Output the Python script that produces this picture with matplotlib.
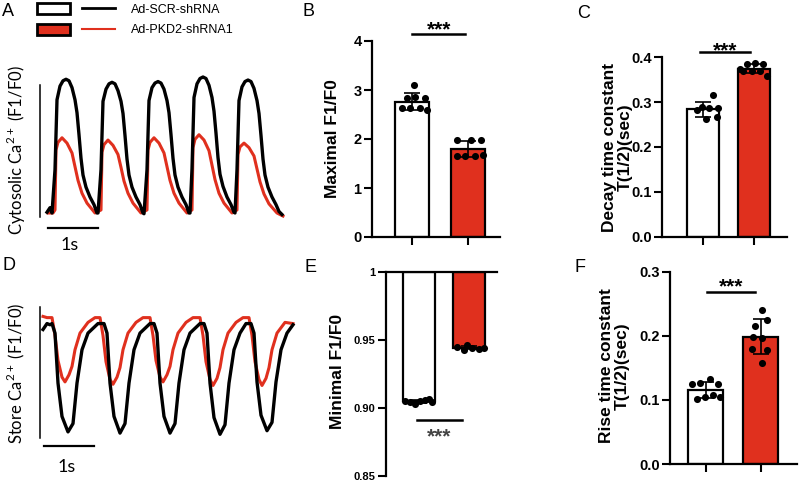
import numpy as np
import matplotlib
matplotlib.use("Agg")
import matplotlib.pyplot as plt
from matplotlib.patches import Patch
from matplotlib.lines import Line2D
from matplotlib.legend_handler import HandlerTuple

plt.rcParams['font.family'] = 'Liberation Sans'

RED = '#e0301e'
W, H = 800, 482

# ---------------- traces: time (s) and F1/F0 ----------------
cyto_t_scr = [0.00, 0.06,
              0.10, 0.16, 0.20, 0.26, 0.32, 0.38, 0.44, 0.50, 0.56, 0.60, 0.64, 0.68, 0.72, 0.78, 0.86, 0.94, 1.00,
              1.02, 1.08, 1.12, 1.18, 1.24, 1.30, 1.36, 1.42, 1.48, 1.52, 1.56, 1.60, 1.64, 1.70, 1.78, 1.86, 1.92,
              1.94, 2.00, 2.04, 2.10, 2.16, 2.22, 2.28, 2.34, 2.40, 2.44, 2.48, 2.52, 2.56, 2.62, 2.70, 2.78, 2.84,
              2.86, 2.90, 2.94, 3.00, 3.06, 3.12, 3.18, 3.24, 3.30, 3.34, 3.38, 3.42, 3.46, 3.52, 3.60, 3.68, 3.74,
              3.76, 3.80, 3.84, 3.90, 3.96, 4.02, 4.08, 4.14, 4.20, 4.24, 4.28, 4.32, 4.36, 4.42, 4.50, 4.58, 4.64, 4.70]
cyto_scr = [1.01, 1.07,
            1.00, 1.57, 2.49, 2.67, 2.74, 2.76, 2.74, 2.65, 2.49, 2.32, 2.03, 1.72, 1.50, 1.34, 1.21, 1.11, 1.00,
            1.00, 1.57, 2.47, 2.63, 2.70, 2.72, 2.70, 2.61, 2.47, 2.31, 2.02, 1.71, 1.50, 1.34, 1.21, 1.11, 1.00,
            0.99, 1.57, 2.48, 2.65, 2.71, 2.73, 2.71, 2.63, 2.48, 2.32, 2.03, 1.72, 1.50, 1.34, 1.21, 1.11, 1.00,
            1.00, 1.58, 2.52, 2.70, 2.77, 2.79, 2.77, 2.68, 2.52, 2.34, 2.05, 1.73, 1.51, 1.35, 1.21, 1.11, 1.01,
            1.00, 1.57, 2.48, 2.66, 2.73, 2.75, 2.73, 2.64, 2.48, 2.31, 2.02, 1.71, 1.50, 1.34, 1.21, 1.11, 1.02, 0.98]

cyto_t_pkd = [0.02, 0.12,
              0.16, 0.18, 0.22, 0.30, 0.40, 0.50, 0.56, 0.62, 0.70, 0.80, 0.96,
              1.08, 1.10, 1.14, 1.22, 1.32, 1.42, 1.48, 1.54, 1.62, 1.72, 1.88,
              2.00, 2.02, 2.06, 2.14, 2.24, 2.34, 2.40, 2.46, 2.54, 2.64, 2.80,
              2.90, 2.92, 2.96, 3.04, 3.14, 3.24, 3.30, 3.36, 3.44, 3.54, 3.70,
              3.80, 3.82, 3.86, 3.94, 4.04, 4.14, 4.20, 4.26, 4.34, 4.44, 4.60, 4.72]
cyto_pkd = [1.00, 1.00,
            1.04, 1.83, 1.93, 1.99, 1.92, 1.79, 1.61, 1.43, 1.26, 1.13, 1.00,
            1.04, 1.80, 1.90, 1.96, 1.89, 1.77, 1.60, 1.42, 1.26, 1.13, 1.00,
            1.04, 1.83, 1.93, 1.99, 1.92, 1.79, 1.61, 1.43, 1.26, 1.13, 1.00,
            1.04, 1.86, 1.97, 2.03, 1.96, 1.82, 1.63, 1.44, 1.26, 1.13, 1.00,
            1.04, 1.77, 1.87, 1.92, 1.86, 1.75, 1.58, 1.41, 1.25, 1.12, 1.00, 0.96]

store_t_scr = [0.00, 0.08, 0.14,
               0.18, 0.24, 0.30, 0.38, 0.50, 0.60, 0.68, 0.78, 0.90, 1.10,
               1.22, 1.28, 1.34, 1.42, 1.54, 1.64, 1.72, 1.82, 1.94, 2.14,
               2.22, 2.28, 2.34, 2.42, 2.54, 2.64, 2.72, 2.82, 2.94, 3.14,
               3.22, 3.28, 3.34, 3.42, 3.54, 3.64, 3.72, 3.82, 3.94, 4.06,
               4.16, 4.22, 4.28, 4.36, 4.48, 4.58, 4.66, 4.76, 4.88, 5.00]
store_scr = [0.992, 0.997, 0.996,
             0.997, 0.989, 0.947, 0.919, 0.906, 0.913, 0.947, 0.975, 0.989, 0.997,
             0.997, 0.989, 0.947, 0.919, 0.905, 0.913, 0.947, 0.975, 0.989, 0.997,
             0.997, 0.989, 0.947, 0.919, 0.905, 0.913, 0.947, 0.975, 0.989, 0.997,
             0.997, 0.989, 0.947, 0.918, 0.904, 0.912, 0.947, 0.975, 0.989, 0.997,
             0.997, 0.989, 0.948, 0.920, 0.907, 0.914, 0.948, 0.975, 0.989, 0.996]

store_t_pkd = [0.00, 0.08,
               0.18, 0.24, 0.30, 0.38, 0.44, 0.52, 0.58, 0.64, 0.74, 0.90, 1.04,
               1.14, 1.20, 1.26, 1.34, 1.40, 1.48, 1.54, 1.60, 1.70, 1.86, 2.00,
               2.14, 2.20, 2.26, 2.34, 2.40, 2.48, 2.54, 2.60, 2.70, 2.86, 3.00,
               3.14, 3.20, 3.26, 3.34, 3.40, 3.48, 3.54, 3.60, 3.70, 3.86, 4.00,
               4.12, 4.18, 4.24, 4.32, 4.38, 4.46, 4.52, 4.58, 4.68, 4.84, 5.00]
store_pkd = [1.003, 1.002,
             1.002, 0.987, 0.966, 0.952, 0.948, 0.954, 0.961, 0.975, 0.989, 0.998, 1.002,
             1.002, 0.987, 0.965, 0.950, 0.946, 0.952, 0.960, 0.975, 0.989, 0.998, 1.002,
             1.002, 0.987, 0.966, 0.952, 0.948, 0.954, 0.961, 0.975, 0.989, 0.998, 1.002,
             1.002, 0.987, 0.965, 0.950, 0.945, 0.951, 0.960, 0.975, 0.989, 0.998, 1.002,
             1.002, 0.987, 0.965, 0.950, 0.945, 0.951, 0.960, 0.975, 0.989, 0.998, 0.997]

# ---------------- per-cell values for the bar panels ----------------
groups = ['Ad-SCR-shRNA', 'Ad-PKD2-shRNA1']

max_scr = [3.10, 2.83, 2.86, 2.83, 2.63, 2.63, 2.63, 2.59]
max_pkd = [1.97, 1.97, 1.97, 1.66, 1.66, 1.66, 1.68]
max_jit_scr = [0.04, -0.095, 0.05, 0.23, -0.18, -0.04, 0.14, 0.26]
max_jit_pkd = [-0.19, 0.05, 0.24, -0.20, -0.05, 0.125, 0.26]

decay_scr = [0.315, 0.289, 0.288, 0.286, 0.282, 0.263, 0.267]
decay_pkd = [0.385, 0.387, 0.385, 0.370, 0.370, 0.370, 0.359, 0.374]
decay_jit_scr = [0.20, -0.025, 0.12, 0.29, -0.12, 0.07, 0.27]
decay_jit_pkd = [-0.14, 0.02, 0.18, -0.21, -0.045, 0.12, 0.25, -0.27]

min_scr = [0.9050, 0.9043, 0.9026, 0.9050, 0.9055, 0.9068, 0.9043]
min_pkd = [0.9448, 0.9423, 0.9460, 0.9443, 0.9436, 0.9443]
min_jit_scr = [-0.28, -0.18, -0.08, 0.02, 0.12, 0.19, 0.25]
min_jit_pkd = [-0.25, -0.11, -0.05, 0.05, 0.19, 0.29]

rise_scr = [0.1246, 0.1257, 0.132, 0.1246, 0.1008, 0.105, 0.1075, 0.105]
rise_pkd = [0.241, 0.215, 0.224, 0.198, 0.197, 0.179, 0.178, 0.157]
rise_jit_scr = [-0.25, -0.10, 0.08, 0.23, -0.16, -0.01, 0.14, 0.26]
rise_jit_pkd = [0.02, -0.10, 0.11, -0.13, 0.02, -0.16, 0.11, 0.02]

max_ticks = [0, 1, 2, 3, 4]
decay_ticks = [0.0, 0.1, 0.2, 0.3, 0.4]
min_ticks = [0.85, 0.90, 0.95, 1.0]
min_labels = ['0.85', '0.90', '0.95', '1']
rise_ticks = [0.0, 0.1, 0.2, 0.3]

fig = plt.figure(figsize=(W / 100, H / 100), dpi=100)


def px_axes(l, t, r, b):
    return fig.add_axes([l / W, 1 - b / H, (r - l) / W, (b - t) / H])


def trace_panel(ax, t_scr, v_scr, t_pkd, v_pkd, label, spine_x, bounds, bar_y, txt_xy, lab_xy):
    ax.plot(t_pkd, v_pkd, color=RED, lw=2.2, solid_joinstyle='round')
    ax.plot(t_scr, v_scr, color='black', lw=2.4, solid_joinstyle='round')
    for s in ['top', 'right', 'bottom']:
        ax.spines[s].set_visible(False)
    ax.spines['left'].set_position(('data', spine_x))
    ax.spines['left'].set_bounds(*bounds)
    ax.spines['left'].set_linewidth(1.1)
    ax.set_xticks([])
    ax.set_yticks([])
    ax.patch.set_alpha(0)
    # 1 s scale bar
    ax.plot([0.02, 1.02], [bar_y, bar_y], color='black', lw=1.6, clip_on=False)
    ax.text(txt_xy[0], txt_xy[1], '1s', ha='center', va='center', fontsize=13,
            family='Lato', clip_on=False)
    ax.text(lab_xy[0], lab_xy[1], label, transform=ax.transAxes, rotation=90,
            ha='right', va='center', fontsize=12, family='Lato')


def bar_panel(ax, scr, pkd, jit_scr, jit_pkd, width, base=0.0):
    for i, (vals, jit, fc) in enumerate([(scr, jit_scr, 'white'), (pkd, jit_pkd, RED)]):
        vals = np.array(vals)
        m, sd = vals.mean(), vals.std(ddof=1)
        ax.bar(i, m - base, width, bottom=base, color=fc, edgecolor='black', lw=1.6, zorder=2)
        ax.errorbar(i, m, yerr=sd, color='black', capsize=5.5, lw=1.2, capthick=1.2, zorder=3)
        ax.scatter(i + np.array(jit), vals, s=26, color='black', zorder=4, clip_on=False,
                   linewidths=0)
    for s in ['top', 'right']:
        ax.spines[s].set_visible(False)
    for s in ['left', 'bottom']:
        ax.spines[s].set_linewidth(1.6)
    ax.tick_params(width=1.5, length=5.5, pad=2)
    ax.set_xticks([0, 1], ['', ''])
    ax.patch.set_alpha(0)


def sig(ax, x0, x1, y, ys, color='black'):
    ax.plot([x0, x1], [y, y], color='black', lw=1.8, clip_on=False)
    ax.text((x0 + x1) / 2, ys, '***', ha='center', va='baseline', fontsize=15,
            fontweight='bold', color=color, clip_on=False)


# ---- A: cytosolic Ca2+ ----
axA = px_axes(36, 70, 290, 250)
axA.set_xlim(-0.22, 4.86)
axA.set_ylim(0.513, 2.882)
trace_panel(axA, cyto_t_scr, cyto_scr, cyto_t_pkd, cyto_pkd,
            'Cytosolic Ca$^{\\mathregular{2+}}$ (F1/F0)', -0.14, (0.95, 2.68), 0.80,
            (0.45, 0.58), (-0.031, 0.556))

# ---- D: store Ca2+ ----
axD = px_axes(36, 300, 296, 480)
axD.set_xlim(-0.14, 5.06)
axD.set_ylim(0.8656, 1.0168)
trace_panel(axD, store_t_scr, store_scr, store_t_pkd, store_pkd,
            'Store Ca$^{\\mathregular{2+}}$ (F1/F0)', -0.06, (0.901, 1.011), 0.894,
            (0.48, 0.8765), (-0.035, 0.594))

# ---- B: maximal F1/F0 ----
axB = px_axes(372, 41, 500, 237)
bar_panel(axB, max_scr, max_pkd, max_jit_scr, max_jit_pkd, 0.59)
axB.set_xlim(-0.714, 1.571)
axB.set_ylim(0, 4)
axB.set_yticks(max_ticks, [str(v) for v in max_ticks], fontweight='bold', fontsize=10.5)
axB.set_ylabel('Maximal F1/F0', fontweight='bold', fontsize=12.5)
axB.yaxis.set_label_coords(-0.25, 0.5)
sig(axB, 0.0, 0.95, 4.14, 4.12)

# ---- C: decay time constant ----
axC = px_axes(662, 57.3, 787, 236.7)
bar_panel(axC, decay_scr, decay_pkd, decay_jit_scr, decay_jit_pkd, 0.63)
axC.set_xlim(-0.80, 1.65)
axC.set_ylim(0, 0.4)
axC.set_yticks(decay_ticks, [f'{v:.1f}' for v in decay_ticks], fontweight='bold', fontsize=10.5)
axC.set_ylabel('Decay time constant\nT(1/2)(sec)', fontweight='bold', fontsize=12.5,
               linespacing=1.05)
axC.yaxis.set_label_coords(-0.232, 0.5)
sig(axC, -0.06, 0.92, 0.411, 0.403)

# ---- E: minimal F1/F0 (bars hang from 1) ----
axE = px_axes(386, 271.7, 497, 476)
bar_panel(axE, min_scr, min_pkd, min_jit_scr, min_jit_pkd, 0.64, base=1.0)
axE.set_xlim(-0.66, 1.56)
axE.set_ylim(0.85, 1.0)
axE.spines['bottom'].set_visible(False)
axE.spines['top'].set_visible(True)
axE.spines['top'].set_linewidth(1.6)
axE.set_xticks([])
axE.set_yticks(min_ticks, min_labels, fontweight='bold', fontsize=8)
axE.set_ylabel('Minimal F1/F0', fontweight='bold', fontsize=12.5)
axE.yaxis.set_label_coords(-0.37, 0.514)
sig(axE, -0.04, 0.86, 0.8913, 0.8747, color='#444444')

# ---- F: rise time constant ----
axF = px_axes(670, 271.7, 797, 464)
bar_panel(axF, rise_scr, rise_pkd, rise_jit_scr, rise_jit_pkd, 0.64)
axF.set_xlim(-0.645, 1.66)
axF.set_ylim(0, 0.3)
axF.set_yticks(rise_ticks, [f'{v:.1f}' for v in rise_ticks], fontweight='bold', fontsize=10.5)
axF.set_ylabel('Rise time constant\nT(1/2)(sec)', fontweight='bold', fontsize=12.5,
               linespacing=1.05)
axF.yaxis.set_label_coords(-0.315, 0.51)
sig(axF, 0.02, 0.90, 0.268, 0.268)

# ---- legend ----
handles = [(Patch(facecolor='white', edgecolor='black', lw=2),
            Line2D([], [], color='black', lw=2)),
           (Patch(facecolor=RED, edgecolor='black', lw=2),
            Line2D([], [], color=RED, lw=1.5))]
fig.legend(handles, groups, loc='upper left', bbox_to_anchor=(37 / W, 1 - 3 / H),
           handler_map={tuple: HandlerTuple(ndivide=None, pad=0.96)},
           frameon=False, borderpad=0, borderaxespad=0, fontsize=9,
           handlelength=6.24, handleheight=0.96, handletextpad=1.28, labelspacing=0.64)

# ---- panel letters ----
for letter, x, y in [('A', 2, 12), ('B', 303, 12), ('C', 577, 13),
                     ('D', 3, 265), ('E', 305, 268), ('F', 575, 267)]:
    fig.text(x / W, 1 - y / H, letter, fontsize=13, ha='left', va='center')

fig.savefig('out.png', dpi=100)
